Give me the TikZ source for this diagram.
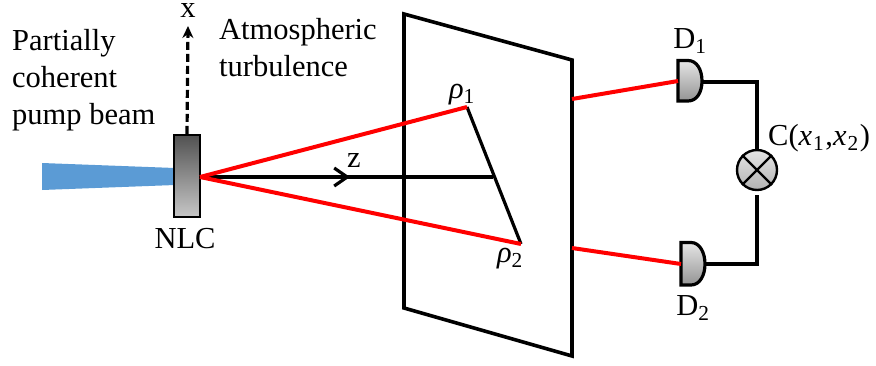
\documentclass[tikz,border=0pt]{standalone}
\usepackage{fontspec}
\setmainfont{Liberation Serif}
\usepackage{xcolor}
\usetikzlibrary{positioning,arrows.meta,calc}
\definecolor{pumpB}{HTML}{5B9BD5}
\definecolor{beamR}{HTML}{FF0000}

\begin{document}
\begin{tikzpicture}[
  x=1pt, y=-1pt,
  every node/.style={font=\fontsize{30.5}{37}\selectfont, inner sep=0pt},
  lbl/.style={anchor=base},
  crystal/.style={rectangle, draw=black, line width=2.2pt, top color=black!68, bottom color=black!22,
             minimum width=26pt, minimum height=82pt},
  mixer/.style={circle, draw=black, line width=2.4pt, top color=black!10, bottom color=black!30,
             minimum size=40pt},
  det/.style={draw=black, line width=3.2pt, top color=black!10, bottom color=black!42},
  wire/.style={draw=black, line width=3.2pt},
  ray/.style={draw=beamR, line width=4pt},
  arr/.style={-{Stealth[length=12pt,width=11pt]}, line width=3.2pt}
]
  \useasboundingbox (0,0) rectangle (876,365);
  % pump beam and crystal
  \fill[pumpB] (42,163) -- (175,168) -- (175,185) -- (42,190) -- cycle;
  \node[crystal] (nlc) at (187,176) {};
  \coordinate (src) at (200,177);
  \node[lbl, below=10pt of nlc, anchor=north, xshift=-2pt] (nlctxt) {NLC};
  \node[lbl, anchor=base west, align=left] (pump) at (12,124) {Partially\\coherent\\pump beam};
  \node[lbl, anchor=base west, align=left] (turb) at (219,76) {Atmospheric\\turbulence};
  % x axis
  \coordinate (xtip) at (188,26);
  \draw[arr, dash pattern=on 8pt off 4pt] (nlc.north) -- (xtip);
  \node[lbl] (xtxt) at (188,17) {x};
  % screen
  \coordinate (pa) at (404,14);
  \coordinate (pb) at (572,60);
  \coordinate (pc) at (572,356);
  \coordinate (pd) at (404,308);
  \draw[wire, line width=3.6pt, line join=miter] (pa) -- (pb) -- (pc) -- (pd) -- cycle;
  % points on the screen
  \coordinate (r1) at (467,107);
  \coordinate (r2) at (521,244);
  \coordinate (foot) at (493,177);
  \coordinate (ztip) at (350,177);
  \node[lbl] (r1txt) at (462,98) {\textit{ρ}\textsubscript{1}};
  \node[lbl] (r2txt) at (510,262) {\textit{ρ}\textsubscript{2}};
  \draw[wire] (src) -- (foot);
  \draw[-{Straight Barb[length=13pt,width=18pt]}, line width=3.2pt] (src) -- (ztip);
  \node[lbl] (ztxt) at (354,167) {z};
  \draw[wire] (r1) -- (r2);
  \draw[ray] (src) -- (r1);
  \draw[ray] (src) -- (r2);
  % detectors
  \coordinate (d1a) at (678,81);
  \coordinate (d1b) at (702,82);
  \coordinate (d2a) at (681,264);
  \coordinate (d2b) at (705,264);
  \draw[det] (678,60.5) -- (688,60.5) .. controls (697,60.5) and (702,70) .. (702,81)
     .. controls (702,92) and (697,101) .. (688,101) -- (678,101) -- cycle;
  \draw[det] (681,242.5) -- (691,242.5) .. controls (700,242.5) and (705,253) .. (705,264)
     .. controls (705,275) and (700,285) .. (691,285) -- (681,285) -- cycle;
  \node[lbl] (d1txt) at (690,48) {D\textsubscript{1}};
  \node[lbl] (d2txt) at (693,315) {D\textsubscript{2}};
  \coordinate (s1) at (572,99);
  \coordinate (s2) at (572,248);
  \draw[ray] (s1) -- (d1a);
  \draw[ray] (s2) -- (d2a);
  % correlator
  \node[mixer] (mix) at (757,170) {};
  \draw[wire, line width=2.4pt] (mix.north west) -- (mix.south east);
  \draw[wire, line width=2.4pt] (mix.north east) -- (mix.south west);
  \draw[wire] (d1b) -| (mix.north);
  \draw[wire] (d2b) -| ($(mix.south)+(0,4)$);
  \node[lbl, anchor=base west] (ctxt) at (768,145) {C(\textit{x}\kern1pt\textsubscript{1}\kern1pt,\textit{x}\kern1pt\textsubscript{2}\kern1pt)};
\end{tikzpicture}
\end{document}
